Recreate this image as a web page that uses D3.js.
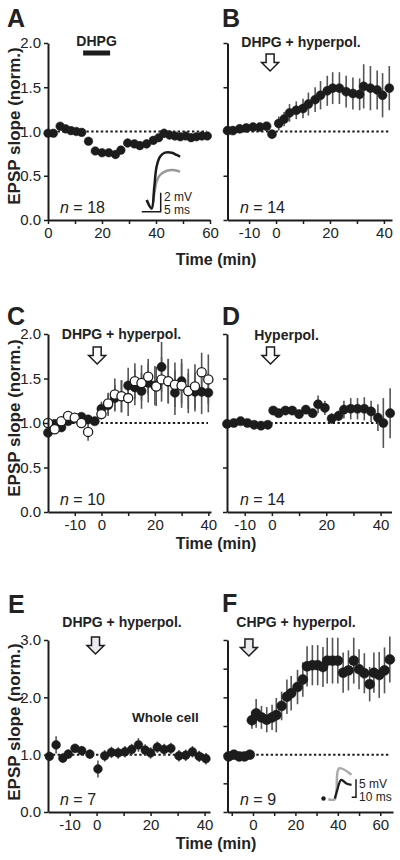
<!DOCTYPE html>
<html><head><meta charset="utf-8">
<script src="https://cdn.jsdelivr.net/npm/d3@7"></script>
<style>
body{margin:0;background:#fff}
svg{display:block}
text{font-family:"Liberation Sans",Arial,Helvetica,sans-serif;fill:#222}
</style></head>
<body><svg id="c" width="400" height="860"></svg>
<script>
// ---------- DATA ----------
// Panel A: DHPG bath application
const A_time = [0, 2, 4.5, 6.5, 8.5, 10.5, 12.5, 15, 17.5, 20, 22.5, 25, 27, 29.5, 32, 34, 36.5, 39, 41, 43, 45, 47, 49, 51, 53, 55, 57, 59];
const A_epsp = [0.98, 0.98, 1.06, 1.03, 1.01, 1.00, 0.99, 0.89, 0.78, 0.76, 0.76, 0.74, 0.79, 0.87, 0.86, 0.84, 0.86, 0.90, 0.93, 0.98, 0.96, 0.95, 0.94, 0.95, 0.93, 0.94, 0.95, 0.95];
const A_sem  = [0.02, 0.02, 0.02, 0.02, 0.02, 0.02, 0.02, 0.03, 0.03, 0.04, 0.04, 0.05, 0.04, 0.05, 0.04, 0.05, 0.05, 0.04, 0.04, 0.05, 0.05, 0.05, 0.04, 0.04, 0.05, 0.04, 0.05, 0.04];
const A_drug = [13, 23];

// Panel B: DHPG + hyperpol.
const B_time = [-18, -16, -13.5, -11, -8.5, -6, -3.5, -1.5, 1, 3, 5, 7.5, 10, 12, 14.5, 16.5, 19, 21, 23.5, 26, 28.5, 31, 32.5, 35, 37.5, 39.5, 42];
const B_epsp = [1.01, 1.01, 1.03, 1.04, 1.05, 1.05, 1.06, 0.97, 1.09, 1.14, 1.21, 1.24, 1.26, 1.31, 1.36, 1.41, 1.46, 1.49, 1.49, 1.45, 1.43, 1.42, 1.51, 1.49, 1.47, 1.41, 1.49];
const B_sem  = [0.03, 0.03, 0.03, 0.03, 0.03, 0.03, 0.03, 0.05, 0.08, 0.08, 0.10, 0.10, 0.11, 0.13, 0.14, 0.16, 0.17, 0.18, 0.18, 0.18, 0.18, 0.18, 0.25, 0.25, 0.22, 0.25, 0.25];

// Panel C: DHPG + hyperpol. (filled and open groups)
const C_filled_time = [-20, -17.5, -15, -12.5, -10, -7.5, -5, -2.5, 0, 2.5, 5, 7.5, 10, 12.5, 15, 17.5, 20, 22.5, 25, 27.5, 30, 32.5, 35, 37.5, 40];
const C_filled_epsp = [0.89, 0.99, 0.95, 1.02, 1.05, 1.07, 1.04, 1.02, 1.16, 1.20, 1.28, 1.30, 1.42, 1.40, 1.36, 1.45, 1.42, 1.63, 1.47, 1.34, 1.47, 1.36, 1.35, 1.35, 1.34];
const C_filled_sem  = [0.04, 0.04, 0.04, 0.04, 0.04, 0.04, 0.04, 0.04, 0.08, 0.12, 0.15, 0.18, 0.20, 0.20, 0.20, 0.22, 0.22, 0.28, 0.25, 0.25, 0.25, 0.25, 0.22, 0.25, 0.22];
const C_open_time = [-20, -17.5, -15, -12.5, -10, -7.5, -5, 0, 2.5, 5, 7.5, 10, 12.5, 15, 17.5, 20.5, 22.5, 25, 27.5, 30, 32.5, 35, 37.5, 40];
const C_open_epsp = [1.00, 0.93, 1.02, 1.08, 1.06, 1.00, 0.90, 1.10, 1.22, 1.32, 1.30, 1.28, 1.47, 1.45, 1.52, 1.41, 1.49, 1.47, 1.43, 1.42, 1.36, 1.41, 1.57, 1.49];
const C_open_sem  = [0.04, 0.04, 0.04, 0.04, 0.04, 0.04, 0.10, 0.06, 0.12, 0.18, 0.18, 0.20, 0.20, 0.20, 0.20, 0.22, 0.25, 0.25, 0.25, 0.25, 0.20, 0.25, 0.22, 0.28];

// Panel D: Hyperpol. alone
const D_time = [-16.5, -14, -11.5, -9, -6.5, -4, -1.5, 0.5, 2.5, 5, 7.5, 10, 12.5, 15, 17, 19.5, 22, 24.5, 26.5, 29, 31.5, 34, 36.5, 39, 41, 43.5];
const D_epsp = [0.99, 1.00, 1.02, 1.00, 0.98, 0.97, 0.98, 1.14, 1.11, 1.14, 1.14, 1.10, 1.15, 1.11, 1.21, 1.17, 1.05, 1.08, 1.15, 1.16, 1.16, 1.16, 1.13, 1.06, 1.00, 1.11];
const D_sem  = [0.02, 0.02, 0.02, 0.02, 0.02, 0.02, 0.02, 0.04, 0.04, 0.05, 0.05, 0.05, 0.05, 0.05, 0.10, 0.08, 0.06, 0.06, 0.10, 0.12, 0.12, 0.13, 0.12, 0.15, 0.28, 0.28];

// Panel E: DHPG + hyperpol., whole cell
const E_time = [-17.5, -15, -12.5, -10.5, -8, -5.5, -2.5, 0.5, 3, 5.5, 8, 10.5, 13, 15.5, 18, 20, 22.5, 25, 27.5, 30.5, 33, 35.5, 38, 40.5];
const E_epsp = [0.97, 1.17, 0.94, 1.01, 1.11, 1.07, 1.01, 0.75, 0.98, 1.04, 1.03, 1.05, 1.09, 1.17, 1.08, 1.03, 1.13, 1.09, 1.11, 0.98, 0.99, 1.05, 0.97, 0.93];
const E_sem  = [0.08, 0.15, 0.08, 0.08, 0.08, 0.08, 0.08, 0.15, 0.10, 0.10, 0.10, 0.10, 0.10, 0.12, 0.10, 0.10, 0.10, 0.10, 0.10, 0.10, 0.10, 0.10, 0.10, 0.10];

// Panel F: CHPG + hyperpol.
const F_time = [-11.5, -9, -6.5, -4, -1.5, -0.5, 1.5, 4, 6.5, 9, 11, 13.5, 16, 18, 21, 23.5, 25.5, 28, 30.5, 33, 35, 37.5, 40, 42.5, 45, 47.5, 50, 52.5, 55, 57, 59.5, 62, 64.5];
const F_epsp = [0.97, 1.00, 0.97, 0.97, 1.00, 1.60, 1.72, 1.65, 1.61, 1.65, 1.69, 1.85, 2.01, 2.07, 2.18, 2.31, 2.54, 2.56, 2.56, 2.53, 2.64, 2.64, 2.64, 2.43, 2.47, 2.64, 2.49, 2.42, 2.23, 2.43, 2.39, 2.47, 2.66];
const F_sem  = [0.03, 0.03, 0.03, 0.03, 0.03, 0.15, 0.25, 0.20, 0.22, 0.22, 0.30, 0.25, 0.30, 0.30, 0.30, 0.30, 0.35, 0.35, 0.35, 0.35, 0.40, 0.40, 0.40, 0.35, 0.35, 0.40, 0.35, 0.35, 0.30, 0.35, 0.40, 0.40, 0.40];

// Tick values and labels
const xTicksA  = [0, 10, 20, 30, 40, 50, 60];
const xTicksF  = [-10, 0, 10, 20, 30, 40, 50, 60];
const xTicksBE = [-10, 0, 10, 20, 30, 40];
const xLabelsA = [0, 20, 40, 60];
const xLabelsBE = [-10, 0, 20, 40];
const xLabelsF = [0, 20, 40, 60];
const yTicks2 = [0, 0.5, 1.0, 1.5, 2.0];
const yTicks3 = [0, 1, 2, 3];
const yTicks3minor = [0, 0.5, 1, 1.5, 2, 2.5, 3];

// Example EPSP traces (ms, mV)
const A_traceBlack = [[0,0],[1.3,-0.9],[2.0,1.4],[2.6,3.5],[3.5,4.55],[4.8,4.98],[6.6,4.98],[7.9,4.74],[8.8,4.55]];
const A_traceGrey  = [[0,0],[1.3,-0.9],[2.0,0.7],[2.6,1.93],[3.5,2.63],[5.3,3.08],[7.0,3.16],[8.8,2.98]];
const F_traceGrey  = [[0,0],[15,0],[19,2.5],[25,8.6],[54,6.8]];
const F_traceBlack = [[15,0.2],[20,2.2],[30,5.4],[42,4.4],[54,4.0]];

// ---------- DRAW ----------
const svg = d3.select('#c');
const INK = '#1c1c1c';

function arrow(g, cx, tipY, fill) {
  const p = d3.path();
  p.moveTo(cx - 4, tipY - 17); p.lineTo(cx + 4, tipY - 17); p.lineTo(cx + 4, tipY - 8.5);
  p.lineTo(cx + 8.5, tipY - 8.5); p.lineTo(cx, tipY); p.lineTo(cx - 8.5, tipY - 8.5);
  p.lineTo(cx - 4, tipY - 8.5); p.closePath();
  g.append('path').attr('d', p.toString()).attr('fill', fill).attr('stroke', INK).attr('stroke-width', 1.5);
}

function panel(cfg) {
  const g = svg.append('g');
  const x = d3.scaleLinear().domain(cfg.xd).range(cfg.xr);
  const y = d3.scaleLinear().domain(cfg.yd).range(cfg.yr);
  const y0 = cfg.yr[0];

  g.append('line').attr('x1', cfg.xr[0]).attr('x2', cfg.xr[1] - 3)
    .attr('y1', y(1)).attr('y2', y(1))
    .attr('stroke', INK).attr('stroke-width', 2).attr('stroke-dasharray', '2.4,2.4');

  cfg.series.forEach(s => {
    const pts = s.t.map((t, i) => ({t, v: s.v[i], e: s.e[i]}));
    g.append('g').selectAll('line').data(pts).join('line')
      .attr('x1', d => x(d.t)).attr('x2', d => x(d.t))
      .attr('y1', d => y(d.v - d.e)).attr('y2', d => y(d.v + d.e))
      .attr('stroke', '#555').attr('stroke-width', 1.6);
  });
  cfg.series.forEach(s => {
    const pts = s.t.map((t, i) => ({t, v: s.v[i]}));
    g.append('g').selectAll('circle').data(pts).join('circle')
      .attr('cx', d => x(d.t)).attr('cy', d => y(d.v)).attr('r', cfg.r)
      .attr('fill', s.open ? '#fff' : INK)
      .attr('stroke', INK).attr('stroke-width', s.open ? 1.3 : 0.5);
  });

  const xa = d3.axisBottom(x).tickValues(cfg.xt).tickSize(4).tickSizeOuter(0)
    .tickFormat(d => cfg.xl.includes(d) ? String(d) : '');
  const gx = g.append('g').attr('transform', `translate(0,${y0})`).call(xa);
  const ya = d3.axisLeft(y).tickValues(cfg.yt).tickSize(4).tickSizeOuter(0).tickPadding(3)
    .tickFormat(d => cfg.ylab ? (cfg.ylab.includes(d) ? d.toFixed(1) : '') : '');
  const gy = g.append('g').attr('transform', `translate(${cfg.xr[0]},0)`).call(ya);
  [gx, gy].forEach(a => {
    a.select('.domain').attr('stroke', INK).attr('stroke-width', 2);
    a.selectAll('.tick line').attr('stroke', INK).attr('stroke-width', 1.5);
    a.selectAll('.tick text').attr('font-size', 15).attr('fill', '#222')
      .style('font-family', '"Liberation Sans",Arial,sans-serif');
  });
  gx.selectAll('.tick text').attr('y', 18).attr('dy', 0);

  g.append('text').attr('x', cfg.letterX).attr('y', cfg.letterY).text(cfg.letter)
    .attr('font-size', 25).attr('font-weight', 'bold').attr('fill', '#222');
  const nt = g.append('text').attr('x', cfg.nX).attr('y', y0 - 7).attr('font-size', 16);
  nt.append('tspan').attr('font-style', 'italic').text('n');
  nt.append('tspan').text(' = ' + cfg.n);

  if (cfg.label) {
    g.append('text').attr('x', cfg.labelX).attr('y', cfg.labelY).attr('text-anchor', 'middle')
      .attr('font-size', 14).attr('font-weight', 'bold').text(cfg.label);
  }
  if (cfg.arrowT !== undefined) arrow(g, x(cfg.arrowT), cfg.arrowTip, cfg.arrowFill);
  return {g, x, y};
}

// Row 1
const pA = panel({letter:'A', letterX:7, letterY:27, xd:[0,60], xr:[48,210], yd:[0,2], yr:[220,43], r:4.3,
  xt:xTicksA, xl:xLabelsA, yt:yTicks2, ylab:yTicks2, n:18, nX:60,
  series:[{t:A_time, v:A_epsp, e:A_sem}]});
pA.g.append('rect').attr('x', pA.x(A_drug[0])).attr('width', pA.x(A_drug[1]) - pA.x(A_drug[0]))
  .attr('y', 50.5).attr('height', 5).attr('fill', INK);
pA.g.append('text').attr('x', pA.x(d3.mean(A_drug))).attr('y', 46).attr('text-anchor','middle')
  .attr('font-size', 14).attr('font-weight','bold').text('DHPG');

panel({letter:'B', letterX:222, letterY:27, xd:[-18,43], xr:[227.5,392], yd:[0,2], yr:[220,43], r:4.5,
  xt:xTicksBE, xl:xLabelsBE, yt:yTicks2, ylab:null, n:14, nX:240,
  label:'DHPG + hyperpol.', labelX:301, labelY:46.5, arrowT:-2.2, arrowTip:71, arrowFill:'#fff',
  series:[{t:B_time, v:B_epsp, e:B_sem}]});

// Row 2
panel({letter:'C', letterX:7, letterY:325, xd:[-20,41], xr:[48,211], yd:[0,2], yr:[512,334], r:4.6,
  xt:xTicksBE, xl:xLabelsBE, yt:yTicks2, ylab:yTicks2, n:10, nX:60,
  label:'DHPG + hyperpol.', labelX:121.5, labelY:338.5, arrowT:-1.6, arrowTip:364, arrowFill:'#fff',
  series:[{t:C_filled_time, v:C_filled_epsp, e:C_filled_sem},
          {t:C_open_time, v:C_open_epsp, e:C_open_sem, open:true}]});

panel({letter:'D', letterX:222, letterY:325, xd:[-16.5,44], xr:[227,391.5], yd:[0,2], yr:[512,334], r:4.6,
  xt:xTicksBE, xl:xLabelsBE, yt:yTicks2, ylab:null, n:14, nX:240,
  label:'Hyperpol.', labelX:286.5, labelY:340, arrowT:-0.5, arrowTip:364, arrowFill:'#fff',
  series:[{t:D_time, v:D_epsp, e:D_sem}]});

// Row 3
const pE = panel({letter:'E', letterX:8, letterY:613, xd:[-18,42], xr:[48,210], yd:[0,3], yr:[812,640], r:4.4,
  xt:xTicksBE, xl:xLabelsBE, yt:yTicks3, ylab:yTicks3, n:7, nX:60,
  label:'DHPG + hyperpol.', labelX:122, labelY:627, arrowT:-0.4, arrowTip:654, arrowFill:'#e9ebef',
  series:[{t:E_time, v:E_epsp, e:E_sem}]});
pE.g.append('text').attr('x', 132).attr('y', 722).attr('font-size', 13.5).attr('font-weight','bold').text('Whole cell');

panel({letter:'F', letterX:222, letterY:612, xd:[-12,66], xr:[227.5,393], yd:[0,3], yr:[812,640], r:5,
  xt:xTicksF, xl:xLabelsF, yt:yTicks3minor, ylab:null, n:9, nX:240,
  label:'CHPG + hyperpol.', labelX:296, labelY:627, arrowT:-1.9, arrowTip:656, arrowFill:'#e9ebef',
  series:[{t:F_time, v:F_epsp, e:F_sem}]});

// Axis titles
[[126, 265], [418, 549], [722, 849]].forEach(([cy, ty]) => {
  svg.append('text').attr('transform', `translate(19.5,${cy}) rotate(-90)`).attr('text-anchor','middle')
    .attr('font-size', 17).attr('font-weight','bold').text('EPSP slope (norm.)');
  svg.append('text').attr('x', 216).attr('y', ty).attr('text-anchor','middle')
    .attr('font-size', 16).attr('font-weight','bold').text('Time (min)');
});

// Inset traces, panel A
{
  const ix = d3.scaleLinear().domain([0, 5]).range([146.7, 165.7]);
  const iy = d3.scaleLinear().domain([0, 2]).range([200, 181]);
  const line = d3.line().x(d => ix(d[0])).y(d => iy(d[1])).curve(d3.curveCatmullRom);
  svg.append('path').attr('d', line(A_traceGrey)).attr('fill','none').attr('stroke','#999').attr('stroke-width',2.5);
  svg.append('path').attr('d', line(A_traceBlack)).attr('fill','none').attr('stroke',INK).attr('stroke-width',2.5);
  svg.append('path').attr('d', 'M141.7,211.7 H160.7 V192.7').attr('fill','none').attr('stroke',INK).attr('stroke-width',1.5);
  svg.append('text').attr('x',164).attr('y',201).attr('font-size',12).text('2 mV');
  svg.append('text').attr('x',164).attr('y',213.5).attr('font-size',12).text('5 ms');
}
// Inset traces, panel F
{
  const ix = d3.scaleLinear().domain([0, 10]).range([328.3, 332.6]);
  const iy = d3.scaleLinear().domain([0, 5]).range([799.3, 781.3]);
  const line = d3.line().x(d => ix(d[0])).y(d => iy(d[1])).curve(d3.curveCatmullRom);
  svg.append('circle').attr('cx', 323.5).attr('cy', 798.5).attr('r', 2.2).attr('fill', INK);
  svg.append('path').attr('d', line(F_traceGrey)).attr('fill','none').attr('stroke','#aaa').attr('stroke-width',2.5);
  svg.append('path').attr('d', line(F_traceBlack)).attr('fill','none').attr('stroke',INK).attr('stroke-width',2.2);
  svg.append('path').attr('d', 'M351.7,797.3 H356 V779.3').attr('fill','none').attr('stroke',INK).attr('stroke-width',1.5);
  svg.append('text').attr('x',359).attr('y',787.5).attr('font-size',12).text('5 mV');
  svg.append('text').attr('x',359).attr('y',800.5).attr('font-size',12).text('10 ms');
}
</script></body></html>
